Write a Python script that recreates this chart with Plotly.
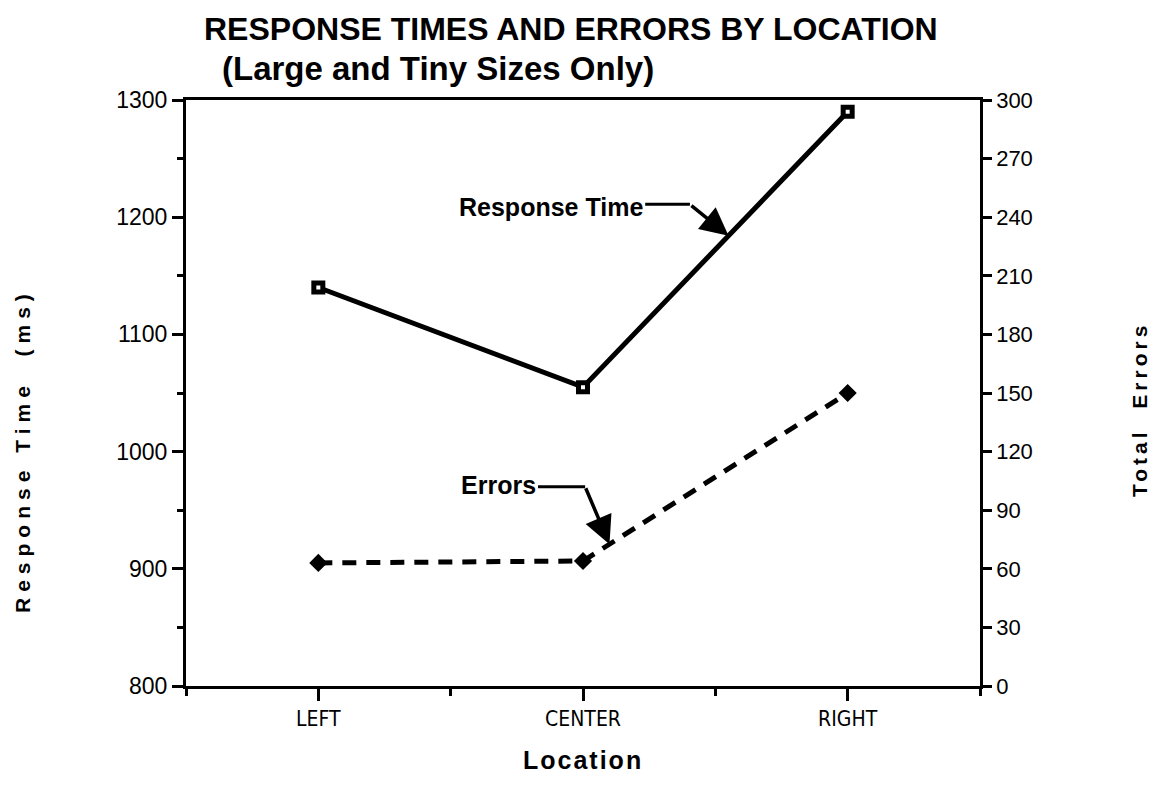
import plotly.graph_objects as go
import numpy as np

# ---- data ----
locations = ["LEFT", "CENTER", "RIGHT"]
response_time_ms = [1140, 1055, 1290]
total_errors = [63, 64, 150]
left_ticks = [800, 900, 1000, 1100, 1200, 1300]
right_ticks = [0, 30, 60, 90, 120, 150, 180, 210, 240, 270, 300]

xpos = list(range(len(locations)))
FONT = "Liberation Sans, Arial, Helvetica, sans-serif"
NARROW = "Liberation Sans Narrow, Arial Narrow, DejaVu Sans Condensed, sans-serif"

fig = go.Figure()

fig.add_trace(go.Scatter(
    x=xpos, y=response_time_ms, mode="lines+markers", name="Response Time",
    line=dict(color="black", width=5),
    marker=dict(symbol="square", size=9, color="white", line=dict(color="black", width=5)),
    cliponaxis=False, yaxis="y"))

fig.add_trace(go.Scatter(
    x=xpos, y=total_errors, mode="lines+markers", name="Errors",
    line=dict(color="black", width=5, dash="14px,10px"),
    marker=dict(symbol="diamond", size=14, color="black"),
    cliponaxis=False, yaxis="y2"))

# arrow tips computed on the lines
rt_tip_x = 1.55
rt_tip_y = float(np.interp(rt_tip_x, xpos, response_time_ms))
er_tip_x = 1.10
er_tip_y = float(np.interp(er_tip_x, xpos, total_errors))

annotations = [
    # Response Time label + bent arrow
    dict(x=1.235, y=1209, xref="x", yref="y", text="<b>Response Time</b>", showarrow=False,
         xanchor="right", yanchor="middle", font=dict(family=FONT, size=25, color="black")),
    dict(x=rt_tip_x, y=rt_tip_y, xref="x", yref="y", ax=1.404, ay=1211, axref="x", ayref="y",
         text="", showarrow=True, arrowhead=2, arrowsize=1.6, arrowwidth=3.5, arrowcolor="black"),
    # Errors label + bent arrow
    dict(x=0.83, y=103, xref="x", yref="y2", text="<b>Errors</b>", showarrow=False,
         xanchor="right", yanchor="middle", font=dict(family=FONT, size=25, color="black")),
    dict(x=er_tip_x, y=er_tip_y, xref="x", yref="y2", ax=1.008, ay=102, axref="x", ayref="y2",
         text="", showarrow=True, arrowhead=2, arrowsize=1.6, arrowwidth=3.5, arrowcolor="black"),
    # titles
    dict(x=0.4849, y=1.121, xref="paper", yref="paper", showarrow=False,
         text="<b>RESPONSE TIMES AND ERRORS BY LOCATION</b>",
         font=dict(family=FONT, size=32, color="black"), xanchor="center", yanchor="middle"),
    dict(x=0.3174, y=1.0546, xref="paper", yref="paper", showarrow=False,
         text="<b>(Large and Tiny Sizes Only)</b>",
         font=dict(family=FONT, size=33, color="black"), xanchor="center", yanchor="middle"),
    # axis titles
    dict(x=-0.2066, y=0.4027, xref="paper", yref="paper", showarrow=False, textangle=-90,
         text="<b>Response Time  (ms)</b>", font=dict(family=FONT, size=21, color="black"),
         xanchor="center", yanchor="middle"),
    dict(x=1.2015, y=0.4727, xref="paper", yref="paper", showarrow=False, textangle=-90,
         text="<b>Total  Errors</b>", font=dict(family=FONT, size=21, color="black"),
         xanchor="center", yanchor="middle"),
    dict(x=0.5, y=-0.1263, xref="paper", yref="paper", showarrow=False,
         text="<b>Location</b>", font=dict(family=FONT, size=25, color="black"),
         xanchor="center", yanchor="middle"),
]

shapes = [
    dict(type="line", xref="x", yref="y", x0=1.235, x1=1.404, y0=1211, y1=1211,
         line=dict(color="black", width=3)),
    dict(type="line", xref="x", yref="y2", x0=0.83, x1=1.008, y0=102, y1=102,
         line=dict(color="black", width=3)),
]

fig.update_layout(
    width=1157, height=802,
    margin=dict(l=178, r=185, t=92, b=124),
    plot_bgcolor="white", paper_bgcolor="white",
    showlegend=False,
    font=dict(family=FONT, color="black"),
    annotations=annotations, shapes=shapes,
    xaxis=dict(
        range=[-0.5, 2.5], tickmode="array", tickvals=xpos, ticktext=locations,
        ticks="outside", ticklen=12, tickwidth=3, tickcolor="black",
        showline=True, linewidth=3, linecolor="black", mirror=True,
        showgrid=False, zeroline=False,
        tickfont=dict(family=NARROW, size=21, color="black"),
        minor=dict(ticks="outside", ticklen=7, tickwidth=3, tickcolor="black",
                   tickmode="linear", tick0=-0.5, dtick=0.5, showgrid=False),
    ),
    yaxis=dict(
        range=[800, 1300], tickmode="array", tickvals=left_ticks,
        ticks="outside", ticklen=11, tickwidth=3, tickcolor="black",
        showline=True, linewidth=3, linecolor="black",
        showgrid=False, zeroline=False,
        tickfont=dict(family=FONT, size=23, color="black"),
        minor=dict(ticks="outside", ticklen=6, tickwidth=3, tickcolor="black",
                   tickmode="linear", tick0=800, dtick=50, showgrid=False),
    ),
    yaxis2=dict(
        range=[0, 300], tickmode="array", tickvals=right_ticks,
        overlaying="y", side="right", anchor="x",
        ticks="outside", ticklen=9, tickwidth=3, tickcolor="black",
        showline=True, linewidth=2.5, linecolor="black",
        showgrid=False, zeroline=False,
        tickfont=dict(family=FONT, size=22, color="black"),
    ),
)

post_script = """
var gd = document.getElementById('{plot_id}');
gd.querySelectorAll('.annotation-text').forEach(function(t){
  var s = t.textContent;
  if (s.indexOf('(ms)') >= 0) { t.style.letterSpacing = '6px'; }
  else if (s.indexOf('Total') >= 0) { t.style.letterSpacing = '4px'; }
  else if (s === 'Location') { t.style.letterSpacing = '2px'; }
});
"""

fig.write_html("out.html", post_script=post_script)
